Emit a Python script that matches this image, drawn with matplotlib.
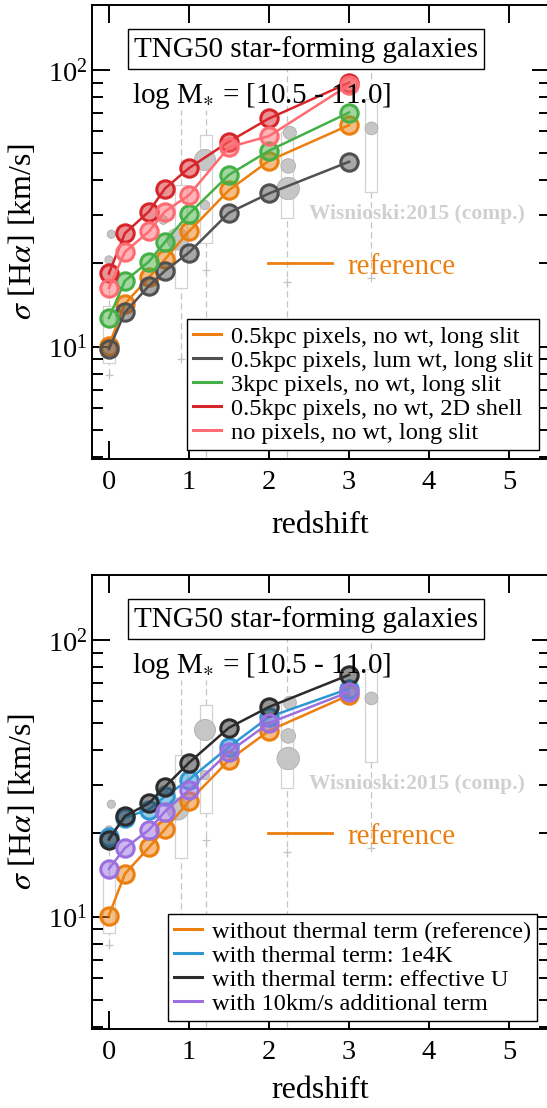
import numpy as np
import matplotlib
matplotlib.use("Agg")
import matplotlib.pyplot as plt
from matplotlib.lines import Line2D
from matplotlib.colors import to_rgba
from matplotlib.ticker import NullFormatter, FixedLocator

plt.rcParams['font.family'] = ['Liberation Serif', 'DejaVu Serif']
plt.rcParams['mathtext.fontset'] = 'stix'

# ---------------- simulation curves ----------------
redshift = [0.0, 0.2, 0.5, 0.7, 1.0, 1.5, 2.0, 3.0]

# upper panel: pixel size / weighting / aperture variations
sig_ref = [10.1, 14.3, 17.8, 20.7, 26.1, 36.8, 47.0, 63.2]
sig_lumwt = [9.8, 13.3, 16.6, 18.8, 21.9, 30.5, 35.8, 46.6]
sig_3kpc = [12.7, 17.3, 20.3, 23.9, 30.2, 41.8, 51.1, 70.2]
sig_2dshell = [18.4, 25.7, 30.8, 37.3, 44.2, 55.1, 66.8, 90.0]
sig_nopix = [16.3, 22.0, 26.1, 30.8, 35.3, 52.6, 57.7, 88.3]

# lower panel: thermal broadening variations
sig_th1e4 = [19.4, 22.8, 24.4, 27.2, 31.3, 41.1, 52.7, 66.7]
sig_thU = [19.0, 23.1, 25.7, 29.5, 36.0, 48.2, 57.3, 74.8]
sig_add10 = [14.9, 17.7, 20.6, 24.0, 28.7, 39.4, 50.1, 64.9]

labels_top = ['0.5kpc pixels, no wt, long slit',
              '0.5kpc pixels, lum wt, long slit',
              '3kpc pixels, no wt, long slit',
              '0.5kpc pixels, no wt, 2D shell',
              'no pixels, no wt, long slit']
labels_bot = ['without thermal term (reference)',
              'with thermal term: 1e4K',
              'with thermal term: effective U',
              'with 10km/s additional term']

# ---------------- Wisnioski+2015 comparison ----------------
obs_z = [0.0, 0.03, 0.68, 0.86, 1.2, 1.2, 2.26, 2.24, 2.24, 3.28]
obs_sig = [20.6, 25.5, 28.7, 24.5, 47.3, 32.5, 59.3, 45.0, 37.3, 61.5]
obs_size = [35, 35, 40, 250, 230, 45, 90, 110, 260, 85]

box_z = [0.0, 0.90, 1.21, 2.23, 3.27]
box_q1 = [8.7, 16.3, 23.8, 29.1, 36.3]
box_q3 = [14.0, 38.3, 58.2, 59.8, 78.3]
whisk_lo = [7.9, 9.0, 4.0, 4.0, 17.7]
whisk_hi = [20.6, 71.7, 71.7, 106.0, 103.0]
cap_vals = [7.9, 9.0, 19.0, 17.2, 17.7]

C_OR = '#ec7f0e'
C_GR = '#505050'
C_GN = '#45b045'
C_RD = '#d7262b'
C_PK = '#ff6b72'
C_BL = '#2f97d4'
C_BK = '#2b2b2b'
C_PU = '#9b6fe0'

W, H = 547, 1108
fig = plt.figure(figsize=(W / 100, H / 100), dpi=100)

ax_left = 91.7
ax_right = 550.0
ax_h = 453.7
tops = [5.0, 575.0]


def make_axes(top):
    return fig.add_axes([ax_left / W, 1 - (top + ax_h) / H,
                         (ax_right - ax_left) / W, ax_h / H])


def draw_obs(ax):
    bw = 0.15
    for z, q1, q3, lo, hi, cv in zip(box_z, box_q1, box_q3, whisk_lo, whisk_hi, cap_vals):
        ax.plot([z - bw / 2, z + bw / 2, z + bw / 2, z - bw / 2, z - bw / 2],
                [q1, q1, q3, q3, q1], color='#d2d2d2', lw=0.9, zorder=0.6)
        ax.plot([z, z], [lo, q1], color='#c4c4c4', lw=0.9, ls=(0, (5, 3)), zorder=0.5)
        ax.plot([z, z], [q3, hi], color='#c4c4c4', lw=0.9, ls=(0, (5, 3)), zorder=0.5)
        ax.plot([z], [cv], marker='+', ms=6, mew=0.9, color='#c4c4c4', zorder=0.6)
    ax.scatter(obs_z, obs_sig, s=obs_size, facecolor='#c6c6c6', edgecolor='#adadad',
               lw=0.6, zorder=1)
    ax.text(0.474, 0.528, 'Wisnioski:2015 (comp.)', transform=ax.transAxes,
            fontsize=15.5, fontweight='bold', color='#d0d0d0', va='baseline', zorder=2)


def draw_series(ax, y, color):
    ax.plot(redshift, y, '-o', color=color, lw=1.8, ms=12.5, mew=2.2,
            mec=color, mfc=to_rgba(color, 0.5), zorder=3)


def style_axes(ax, xlab_y):
    ax.set_yscale('log')
    ax.set_xlim(-0.215, 5.51)
    ax.set_ylim(3.94, 171.7)
    ax.xaxis.set_major_locator(FixedLocator([0, 1, 2, 3, 4, 5]))
    ax.yaxis.set_minor_formatter(NullFormatter())
    ax.tick_params(which='both', direction='in', top=True, right=True, width=1.4,
                   labelsize=20.5)
    ax.tick_params(which='major', length=13.3)
    ax.tick_params(which='minor', length=7.6)
    ax.tick_params(axis='x', pad=8)
    ax.tick_params(axis='y', pad=3)
    for sp in ax.spines.values():
        sp.set_linewidth(1.4)
    ax.set_xlabel('redshift', fontsize=23)
    ax.set_ylabel(r'$\sigma$ [H$\alpha$] [km/s]', fontsize=23)
    ax.xaxis.set_label_coords(0.498, xlab_y)
    ax.yaxis.set_label_coords(-0.118, 0.5)
    ax.text(0.0923, 0.886, 'TNG50 star-forming galaxies', transform=ax.transAxes,
            fontsize=21, va='baseline', zorder=6,
            bbox=dict(boxstyle='square,pad=0.22', fc='white', ec='black', lw=1.0))
    ax.text(0.0873, 0.784, r'log M$_{\ast}$ = [10.5 - 11.0]', transform=ax.transAxes,
            fontsize=21, va='baseline', zorder=6)
    ax.plot([0.385, 0.524], [0.4307, 0.4307], color=C_OR, lw=2.0,
            transform=ax.transAxes, zorder=2)
    ax.text(0.559, 0.407, 'reference', transform=ax.transAxes, fontsize=21,
            color=C_OR, va='baseline', zorder=2)


def add_legend(ax, colors, labels, anchor):
    handles = [Line2D([], [], color=c, lw=2.2) for c in colors]
    leg = ax.legend(handles, labels, loc='lower right', bbox_to_anchor=anchor,
                    borderaxespad=0, fontsize=17.6, frameon=True, fancybox=False,
                    framealpha=1, edgecolor='black', handlelength=1.15,
                    handletextpad=0.4, borderpad=0.25, labelspacing=0.08)
    leg.get_frame().set_linewidth(1.0)
    leg.set_zorder(10)


# upper panel
ax1 = make_axes(tops[0])
draw_obs(ax1)
for y, c in zip([sig_ref, sig_lumwt, sig_3kpc, sig_2dshell, sig_nopix],
                [C_OR, C_GR, C_GN, C_RD, C_PK]):
    draw_series(ax1, y, c)
style_axes(ax1, -0.115)
add_legend(ax1, [C_OR, C_GR, C_GN, C_RD, C_PK], labels_top, (0.976, 0.019))

# lower panel
ax2 = make_axes(tops[1])
draw_obs(ax2)
for y, c in zip([sig_ref, sig_th1e4, sig_thU, sig_add10],
                [C_OR, C_BL, C_BK, C_PU]):
    draw_series(ax2, y, c)
style_axes(ax2, -0.104)
add_legend(ax2, [C_OR, C_BL, C_BK, C_PU], labels_bot, (0.9724, 0.017))

fig.savefig('out.png', dpi=100)
